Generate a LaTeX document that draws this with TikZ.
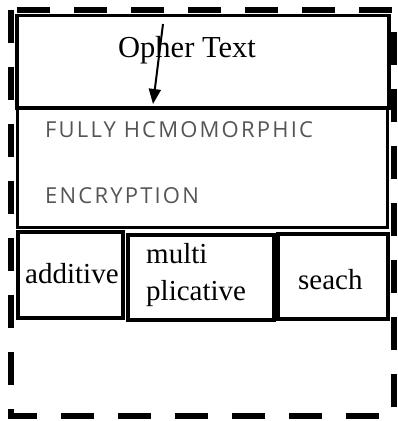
\documentclass[tikz,border=0pt]{standalone}
\usepackage{fontspec}
\setmainfont{Liberation Serif}
\newfontfamily\fhefont[LetterSpace=10]{Open Sans}
\usetikzlibrary{arrows.meta}
\definecolor{fhegray}{HTML}{555555}
\tikzset{
  box/.style={draw=black, line width=3.5pt, inner sep=0pt, outer sep=0pt},
  serif/.style={font=\fontsize{29}{34}\selectfont, inner sep=0pt, anchor=base west},
  sans/.style={font=\fhefont\fontsize{22}{26}\selectfont, text=fhegray, inner sep=0pt, anchor=base west},
  outline/.style={draw=black, line width=6pt, dash pattern=on 33pt off 24pt}
}
\begin{document}
\begin{tikzpicture}[x=1pt,y=-1pt]
\useasboundingbox (0,0) rectangle (397,421);
\path[outline] (11,10) rectangle (394,416);
\node[box, minimum width=372pt, minimum height=92.5pt] (top) at (203,61.75) {};
\node[box, line width=3pt, minimum width=370pt, minimum height=119pt] (fhe) at (202,167.5) {};
\node[box, minimum width=105pt, minimum height=86pt] (add) at (70.5,275) {};
\node[box, minimum width=146pt, minimum height=85pt] (mul) at (201,277.5) {};
\node[box, minimum width=110pt, minimum height=85pt] (sea) at (333,276.5) {};
\node[serif, font=\fontsize{30.5}{34}\selectfont] (toptext) at (118,57) {Opher Text};
\node[sans] (fhe1) at (45,137) {FULLY HCMOMORPHIC};
\node[sans] (fhe2) at (45,203) {ENCRYPTION};
\node[serif] (addtext) at (25,283) {additive};
\node[serif] (multext1) at (146,263) {multi};
\node[serif] (multext2) at (146,300) {plicative};
\node[serif] (seatext) at (298,289) {seach};
\coordinate (arrowstart) at (163,24);
\coordinate (arrowtip) at (153,104);
\draw[line width=2pt, -{Triangle[length=15pt, width=12pt]}] (arrowstart) -- (arrowtip);
\end{tikzpicture}
\end{document}
